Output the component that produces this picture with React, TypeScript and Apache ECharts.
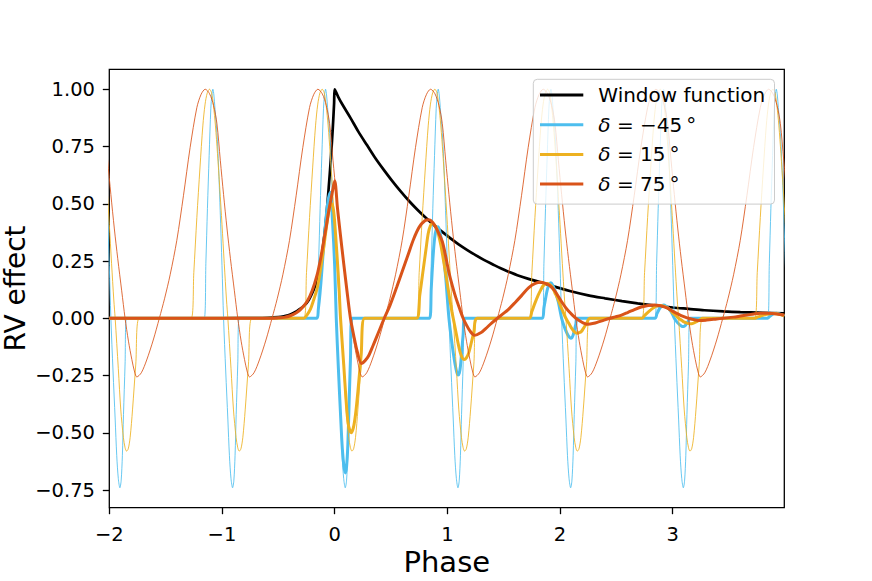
import React, { useEffect, useRef } from "react";
import * as echarts from "echarts";

const FONT = "DejaVu Sans";

// axis ranges and ticks
const xRange = [-2, 3.99];
const yRange = [-0.827, 1.087];
const xTicks = [-2, -1, 0, 1, 2, 3];
const yTicks = [-0.75, -0.5, -0.25, 0, 0.25, 0.5, 0.75, 1.0];

const legendNames = ["Window function", "δ = −45°", "δ = 15°", "δ = 75°"];
const colors = ["#000000", "#4DBEEE", "#EDB120", "#D95319"];

// periods (phase offsets) over which the thin periodic curves repeat
const periods = [-2, -1, 0, 1, 2, 3, 4];

// one period of each thin (unwindowed) curve: [phase, value]
const blueWave = [
  [-0.158, 0], [-0.143, 0.24], [-0.129, 0.48], [-0.114, 0.71], [-0.099, 0.917],
  [-0.09, 0.975], [-0.081, 1.0], [-0.072, 0.975], [-0.063, 0.92], [-0.04, 0.77],
  [-0.016, 0.47], [0, 0.23], [0.014, 0], [0.033, -0.23], [0.052, -0.44],
  [0.066, -0.6], [0.08, -0.7], [0.094, -0.74], [0.105, -0.71], [0.116, -0.6],
  [0.126, -0.42], [0.14, -0.2], [0.153, 0],
];
const orangeWave = [
  [-0.274, 0], [-0.25, 0.2], [-0.223, 0.44], [-0.195, 0.66], [-0.17, 0.84],
  [-0.15, 0.935], [-0.13, 0.985], [-0.111, 1.0], [-0.093, 0.985], [-0.076, 0.93],
  [-0.058, 0.84], [-0.04, 0.72], [-0.02, 0.57], [0, 0.41], [0.02, 0.24],
  [0.04, 0.08], [0.052, 0], [0.08, -0.22], [0.102, -0.4], [0.125, -0.52],
  [0.14, -0.565], [0.153, -0.58], [0.168, -0.57], [0.185, -0.52], [0.206, -0.4],
  [0.235, -0.2], [0.266, 0],
];
const redWave = [
  [-0.756, -0.256], [-0.716, -0.238], [-0.668, -0.182], [-0.61, -0.095], [-0.556, 0],
  [-0.51, 0.085], [-0.46, 0.19], [-0.401, 0.34], [-0.342, 0.535], [-0.283, 0.745],
  [-0.223, 0.92], [-0.185, 0.978], [-0.149, 1.0], [-0.11, 0.98], [-0.075, 0.93],
  [-0.045, 0.85], [-0.015, 0.69], [0.014, 0.54], [0.045, 0.39], [0.075, 0.26],
  [0.11, 0.12], [0.14, 0], [0.17, -0.1], [0.2, -0.18], [0.225, -0.235],
];

// window function
const windowData = [
  [-2, 0], [-1, 0], [-0.7, 0.001], [-0.6, 0.002], [-0.5, 0.005], [-0.45, 0.009],
  [-0.394, 0.016], [-0.34, 0.03], [-0.276, 0.052], [-0.23, 0.08], [-0.19, 0.12],
  [-0.156, 0.165], [-0.125, 0.24], [-0.098, 0.335], [-0.075, 0.44], [-0.053, 0.57],
  [-0.035, 0.69], [-0.018, 0.82], [-0.005, 0.94], [0, 1.0], [0.03, 0.968],
  [0.07, 0.932], [0.14, 0.875], [0.21, 0.815], [0.288, 0.755], [0.36, 0.7],
  [0.436, 0.648], [0.51, 0.6], [0.584, 0.555], [0.66, 0.512], [0.732, 0.475],
  [0.806, 0.44], [0.88, 0.407], [0.955, 0.377], [1.028, 0.349], [1.1, 0.323],
  [1.177, 0.298], [1.25, 0.276], [1.324, 0.255], [1.4, 0.236], [1.473, 0.218],
  [1.55, 0.202], [1.621, 0.188], [1.72, 0.172], [1.828, 0.157], [1.95, 0.138],
  [2.095, 0.118], [2.25, 0.1], [2.4, 0.087], [2.55, 0.075], [2.688, 0.065],
  [2.85, 0.055], [3.0, 0.047], [3.14, 0.041], [3.28, 0.035], [3.45, 0.03],
  [3.6, 0.027], [3.8, 0.024], [3.99, 0.021],
];

// windowed (thick) curves
const blueThick = [
  [-2, 0], [-0.158, 0], [-0.145, 0.04], [-0.13, 0.11], [-0.115, 0.2], [-0.1, 0.3],
  [-0.08, 0.42], [-0.06, 0.51], [-0.038, 0.55], [-0.02, 0.43], [0, 0.23], [0.014, 0],
  [0.033, -0.22], [0.052, -0.42], [0.068, -0.57], [0.083, -0.65], [0.095, -0.675],
  [0.106, -0.645], [0.117, -0.55], [0.128, -0.37], [0.14, -0.18], [0.153, 0],
  [0.842, 0], [0.857, 0.13], [0.872, 0.26], [0.887, 0.35], [0.902, 0.39], [0.918, 0.4],
  [0.935, 0.375], [0.96, 0.3], [0.985, 0.18], [1.0, 0.085], [1.014, 0], [1.033, -0.08],
  [1.052, -0.15], [1.068, -0.2], [1.083, -0.235], [1.095, -0.248], [1.106, -0.24],
  [1.117, -0.205], [1.128, -0.14], [1.14, -0.07], [1.153, 0],
  [1.842, 0], [1.857, 0.045], [1.872, 0.088], [1.887, 0.125], [1.902, 0.147], [1.918, 0.155],
  [1.935, 0.145], [1.96, 0.115], [1.985, 0.07], [2.0, 0.033], [2.014, 0], [2.033, -0.03],
  [2.052, -0.055], [2.068, -0.072], [2.083, -0.083], [2.095, -0.087], [2.106, -0.084],
  [2.117, -0.072], [2.128, -0.05], [2.14, -0.025], [2.153, 0],
  [2.842, 0], [2.86, 0.02], [2.88, 0.04], [2.9, 0.053], [2.918, 0.058], [2.94, 0.053],
  [2.97, 0.038], [2.995, 0.02], [3.014, 0], [3.04, -0.018], [3.065, -0.03], [3.08, -0.035],
  [3.095, -0.036], [3.11, -0.032], [3.125, -0.022], [3.14, -0.011], [3.153, 0],
  [3.842, 0], [3.86, 0.008], [3.88, 0.016], [3.9, 0.02], [3.918, 0.022], [3.94, 0.02],
  [3.965, 0.016], [3.99, 0.009],
];
const orangeThick = [
  [-2, 0], [-0.274, 0], [-0.245, 0.015], [-0.215, 0.04], [-0.19, 0.075], [-0.156, 0.13],
  [-0.13, 0.2], [-0.098, 0.306], [-0.07, 0.41], [-0.044, 0.49], [-0.025, 0.5], [-0.01, 0.47],
  [0, 0.42], [0.02, 0.28], [0.04, 0.12], [0.052, 0], [0.08, -0.2], [0.1, -0.35],
  [0.12, -0.46], [0.146, -0.5], [0.165, -0.48], [0.185, -0.42], [0.206, -0.32],
  [0.235, -0.16], [0.266, 0],
  [0.726, 0], [0.755, 0.1], [0.785, 0.21], [0.81, 0.3], [0.83, 0.37], [0.85, 0.405],
  [0.87, 0.415], [0.889, 0.405], [0.907, 0.39], [0.924, 0.36], [0.942, 0.32], [0.96, 0.27],
  [0.98, 0.21], [1.0, 0.15], [1.02, 0.088], [1.04, 0.03], [1.052, 0], [1.08, -0.07],
  [1.102, -0.125], [1.125, -0.165], [1.15, -0.18], [1.17, -0.172], [1.19, -0.15],
  [1.206, -0.12], [1.235, -0.06], [1.266, 0],
  [1.726, 0], [1.75, 0.03], [1.777, 0.066], [1.805, 0.1], [1.83, 0.125], [1.85, 0.142],
  [1.87, 0.15], [1.889, 0.152], [1.907, 0.148], [1.924, 0.14], [1.942, 0.125], [1.96, 0.105],
  [1.98, 0.085], [2.0, 0.06], [2.02, 0.036], [2.04, 0.012], [2.052, 0], [2.08, -0.024],
  [2.102, -0.043], [2.125, -0.058], [2.15, -0.065], [2.17, -0.063], [2.19, -0.057],
  [2.206, -0.045], [2.235, -0.022], [2.266, 0],
  [2.726, 0], [2.75, 0.012], [2.777, 0.025], [2.805, 0.037], [2.83, 0.046], [2.86, 0.054],
  [2.889, 0.056], [2.92, 0.053], [2.95, 0.046], [2.98, 0.036], [3.0, 0.023], [3.03, 0.011],
  [3.052, 0], [3.08, -0.009], [3.1, -0.016], [3.125, -0.021], [3.153, -0.024], [3.18, -0.022],
  [3.206, -0.016], [3.235, -0.008], [3.266, 0],
  [3.726, 0], [3.75, 0.005], [3.777, 0.009], [3.805, 0.014], [3.83, 0.017], [3.86, 0.02],
  [3.889, 0.021], [3.92, 0.02], [3.95, 0.017], [3.99, 0.01],
];
const redThick = [
  [-2, 0], [-0.6, 0], [-0.5, 0.002], [-0.45, 0.004], [-0.394, 0.011], [-0.34, 0.024],
  [-0.3, 0.04], [-0.245, 0.073], [-0.2, 0.12], [-0.156, 0.189], [-0.125, 0.26],
  [-0.098, 0.335], [-0.075, 0.4], [-0.053, 0.466], [-0.025, 0.54], [0, 0.6], [0.025, 0.48],
  [0.051, 0.364], [0.08, 0.24], [0.11, 0.116], [0.14, 0], [0.169, -0.075], [0.2, -0.145],
  [0.237, -0.197], [0.27, -0.185], [0.3, -0.165], [0.34, -0.12], [0.39, -0.06], [0.44, 0],
  [0.49, 0.055], [0.55, 0.135], [0.6, 0.205], [0.65, 0.275], [0.7, 0.345], [0.75, 0.398],
  [0.8, 0.426], [0.836, 0.43], [0.87, 0.418], [0.91, 0.385], [0.955, 0.335], [0.985, 0.27],
  [1.014, 0.2], [1.045, 0.14], [1.075, 0.09], [1.11, 0.04], [1.14, 0], [1.17, -0.03],
  [1.2, -0.055], [1.24, -0.074], [1.3, -0.062], [1.34, -0.045], [1.39, -0.022], [1.444, 0],
  [1.49, 0.018], [1.54, 0.038], [1.6, 0.068], [1.66, 0.1], [1.72, 0.133], [1.78, 0.152],
  [1.828, 0.157], [1.87, 0.152], [1.91, 0.142], [1.95, 0.122], [1.985, 0.095], [2.014, 0.072],
  [2.045, 0.05], [2.075, 0.032], [2.11, 0.014], [2.14, 0], [2.17, -0.01], [2.2, -0.019],
  [2.244, -0.026], [2.3, -0.022], [2.34, -0.016], [2.39, -0.008], [2.444, 0], [2.49, 0.006],
  [2.54, 0.013], [2.6, 0.025], [2.66, 0.038], [2.72, 0.049], [2.78, 0.056], [2.836, 0.058],
  [2.89, 0.055], [2.925, 0.05], [2.955, 0.044], [2.985, 0.035], [3.014, 0.027], [3.045, 0.019],
  [3.075, 0.012], [3.11, 0.005], [3.14, 0], [3.2, -0.007], [3.244, -0.01], [3.3, -0.008],
  [3.39, -0.003], [3.444, 0], [3.54, 0.005], [3.6, 0.0095], [3.66, 0.014], [3.72, 0.019],
  [3.78, 0.022], [3.85, 0.022], [3.925, 0.019], [3.99, 0.014],
];

function tile(wave: number[][]): number[][] {
  const out: number[][] = [];
  for (const k of periods) for (const [x, y] of wave) out.push([x + k, y]);
  return out;
}

const minus = (s: string) => s.replace("-", "\u2212");

export default function App() {
  const ref = useRef<HTMLDivElement>(null);
  useEffect(() => {
    if (!ref.current) return;
    const chart = echarts.init(ref.current, undefined, { renderer: "svg" });
    const thin = (name: string, wave: number[][], color: string) => ({
      name, type: "line", data: tile(wave), showSymbol: false, symbol: "none",
      smooth: 0.3, clip: true, silent: true,
      lineStyle: { color, width: 1, opacity: 0.85 }, itemStyle: { color },
    });
    const thick = (name: string, data: number[][], color: string, width = 3) => ({
      name, type: "line", data, showSymbol: false, symbol: "none",
      smooth: 0.3, clip: true, silent: true,
      lineStyle: { color, width }, itemStyle: { color },
    });
    const option: any = {
      animation: false,
      backgroundColor: "#ffffff",
      textStyle: { fontFamily: FONT },
      grid: {
        left: 109.3, top: 69.3, width: 675, height: 438.4,
        outerBoundsMode: "none", containLabel: false,
        show: true, borderColor: "#000", borderWidth: 1.3, backgroundColor: "transparent",
      },
      legend: {
        show: true, orient: "vertical", left: 533.3, top: 79.3,
        padding: [5.7, 9.3, 10, 6.7],
        itemWidth: 43.3, itemHeight: 3, itemGap: 9.7, icon: "rect",
        itemStyle: { borderWidth: 0 },
        backgroundColor: "rgba(255,255,255,0.8)", borderColor: "#cccccc",
        borderWidth: 1, borderRadius: 4, selectedMode: false,
        data: legendNames,
        formatter: (name: string) => {
          if (name === legendNames[0]) return "{g| }" + name;
          const rest = name.replace("δ = ", "").replace("°", "");
          return "{g| }{i|δ} = " + rest + "{d|°}";
        },
        textStyle: {
          fontSize: 20, fontFamily: FONT, color: "#000",
          rich: {
            g: { width: 10, fontSize: 20 },
            i: { fontStyle: "italic", fontSize: 20, fontFamily: FONT },
            d: { fontSize: 20, fontFamily: FONT, padding: [0, 0, 0, 4] },
          },
        },
      },
      xAxis: {
        type: "value", min: xRange[0], max: xRange[1],
        axisLine: { show: false, onZero: false },
        splitLine: { show: false },
        axisTick: { show: true, length: 6.5, lineStyle: { color: "#000", width: 1.3 }, customValues: xTicks },
        axisLabel: {
          customValues: xTicks, margin: 17, fontSize: 19.5, fontFamily: FONT, color: "#000",
          formatter: (v: number) => minus(String(v)),
        },
        name: "Phase", nameLocation: "middle", nameGap: 40, nameMoveOverlap: false,
        nameTextStyle: { fontSize: 29, fontFamily: FONT, color: "#000" },
      },
      yAxis: {
        type: "value", min: yRange[0], max: yRange[1],
        axisLine: { show: false, onZero: false },
        splitLine: { show: false },
        axisTick: { show: true, length: 6.5, lineStyle: { color: "#000", width: 1.3 }, customValues: yTicks },
        axisLabel: {
          customValues: yTicks, margin: 14.3, fontSize: 19.5, fontFamily: FONT, color: "#000",
          formatter: (v: number) => minus(v.toFixed(2)),
        },
        name: "RV effect", nameLocation: "middle", nameGap: 80, nameMoveOverlap: false,
        nameTextStyle: { fontSize: 28, fontFamily: FONT, color: "#000" },
      },
      series: [
        thick(legendNames[0], windowData, colors[0], 2.7),
        thin("thin δ = −45°", blueWave, colors[1]),
        thick(legendNames[1], blueThick, colors[1]),
        thin("thin δ = 15°", orangeWave, colors[2]),
        thick(legendNames[2], orangeThick, colors[2]),
        thin("thin δ = 75°", redWave, colors[3]),
        thick(legendNames[3], redThick, colors[3]),
      ],
    };
    chart.setOption(option);
    return () => chart.dispose();
  }, []);
  return (
    <div
      ref={ref}
      style={{ position: "absolute", left: 0, top: 0, width: 872, height: 581, background: "#fff" }}
    />
  );
}
